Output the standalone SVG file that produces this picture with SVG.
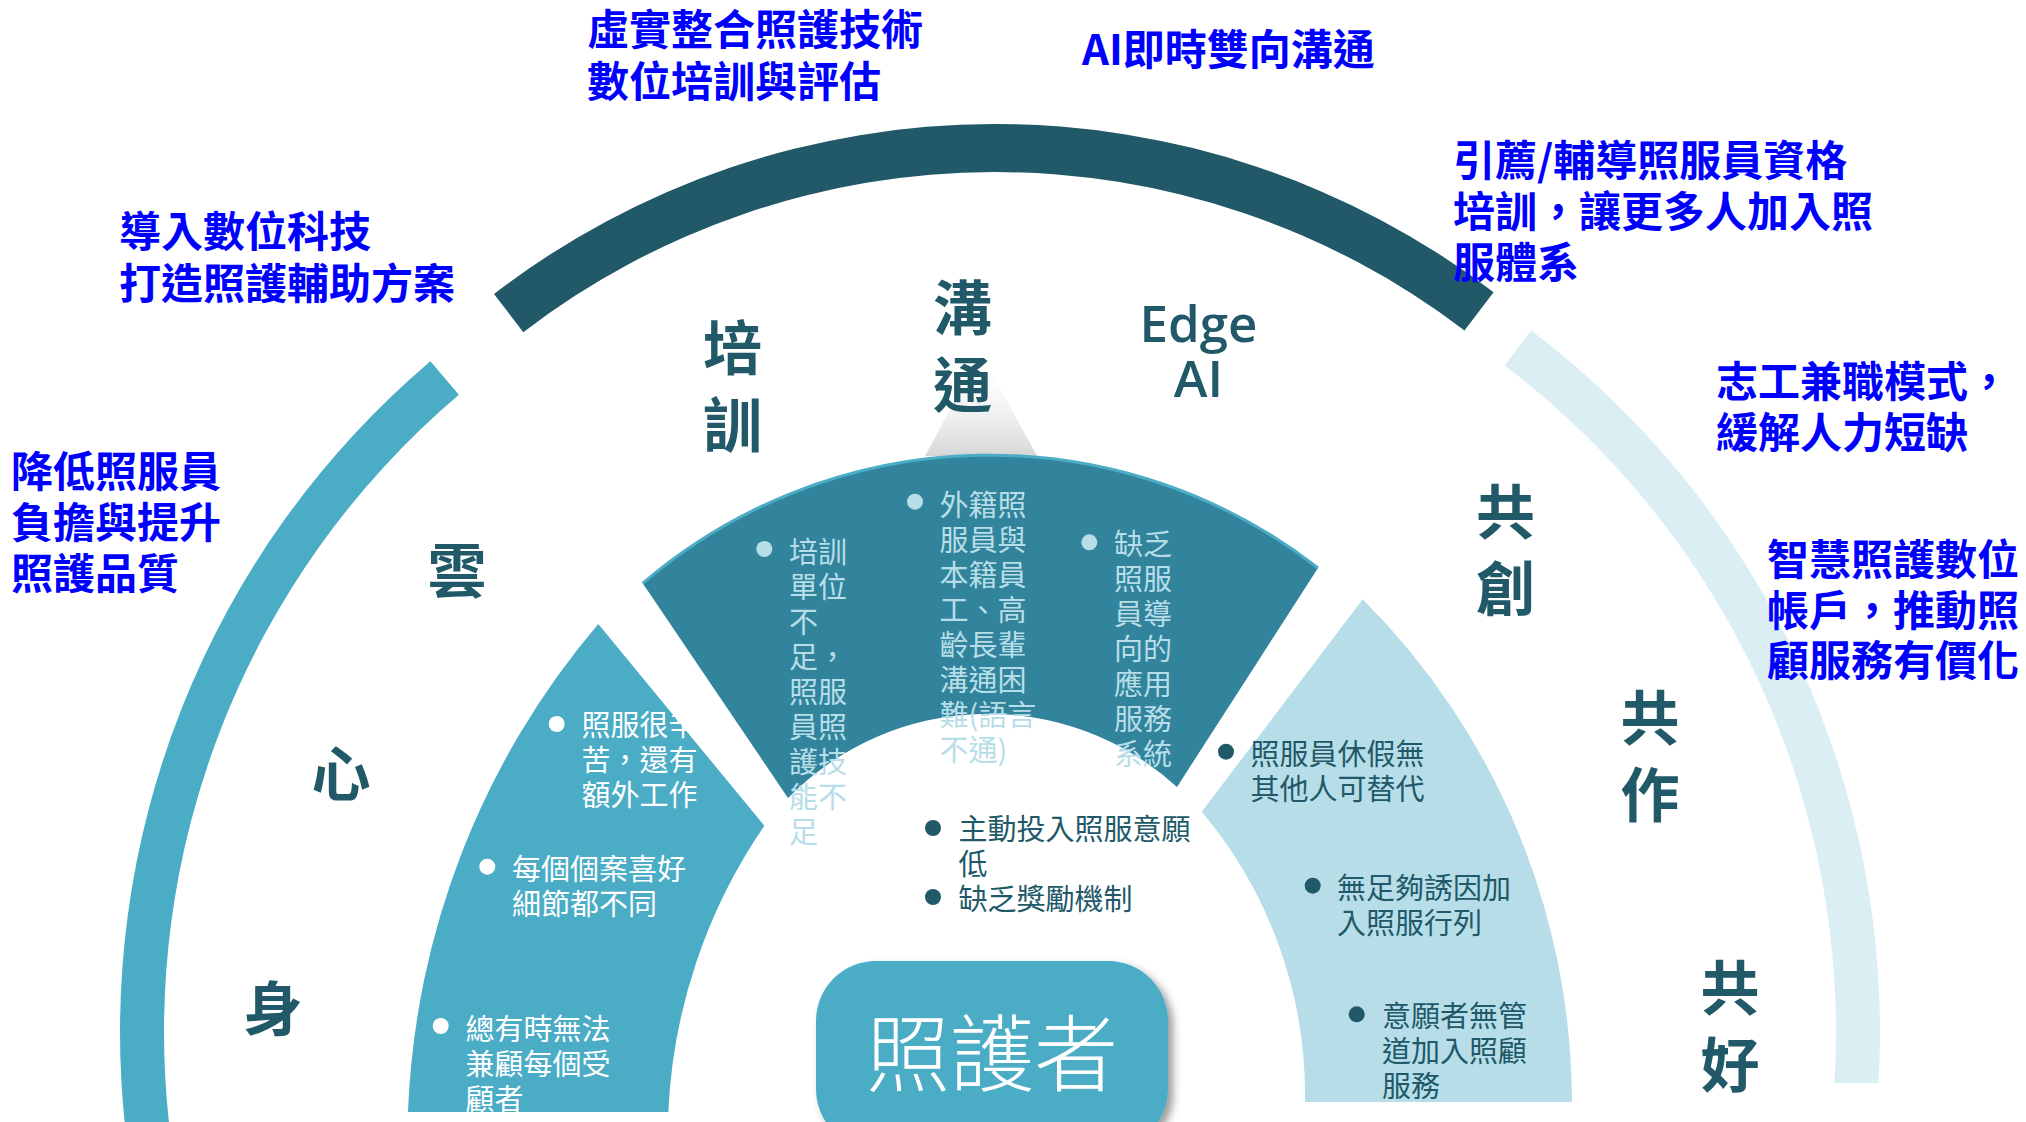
<svg xmlns="http://www.w3.org/2000/svg" width="2026" height="1122" viewBox="0 0 2026 1122">
<defs>
<style>
.blue{font-family:"Noto Sans CJK TC","Noto Sans CJK SC",sans-serif;font-weight:700;font-size:42px;fill:#0000FF}
.big{font-family:"Noto Sans CJK TC","Noto Sans CJK SC",sans-serif;font-weight:700;font-size:59px;fill:#215968;text-anchor:middle}
.item{font-family:"Noto Sans CJK TC","Noto Sans CJK SC",sans-serif;font-size:29px}
.w{fill:#FFFFFF}
.lt{fill:#B7DEE8}
.dk{fill:#215968}
</style>
<linearGradient id="spot" x1="0" y1="0" x2="0" y2="1">
<stop offset="0" stop-color="#ffffff" stop-opacity="0"/>
<stop offset="1" stop-color="#d6d6d6"/>
</linearGradient>
<filter id="sh" x="-10%" y="-10%" width="130%" height="130%">
<feDropShadow dx="5" dy="5" stdDeviation="4" flood-color="#000" flood-opacity="0.4"/>
</filter>
</defs>
<rect width="2026" height="1122" fill="#FFFFFF"/>

<g id="outer-arcs">
<path id="arc-top" d="M494,294 A823,823 0 0 1 1493.6,292.2 L1464.5,330.4 A775,775 0 0 0 523.3,332.2 Z" fill="#215968"/>
<path id="arc-left" d="M430.4,361.2 A880,880 0 0 0 125.5,1130 L169.8,1130 A836,836 0 0 1 458.9,394.7 Z" fill="#4BACC6"/>
<path id="arc-right" d="M1531.2,330.4 A880,880 0 0 1 1878.5,1083 L1834.4,1083 A836,836 0 0 0 1504.6,365.5 Z" fill="#DAEEF3"/>
</g>

<polygon id="spotlight" points="981,353 925,456 1037,456" fill="url(#spot)"/>

<g id="seg-left">
<path d="M598.3,624 L764.3,825.7 A550,550 0 0 0 668.3,1112 L408,1112 A800,800 0 0 1 598.3,624 Z" fill="#4BACC6"/>
<circle class="w" cx="556.7" cy="724" r="8"/>
<text class="item w"><tspan x="581.5" y="736">照服很辛</tspan><tspan x="581.5" y="771">苦，還有</tspan><tspan x="581.5" y="806">額外工作</tspan></text>
<circle class="w" cx="487.3" cy="866.7" r="8"/>
<text class="item w"><tspan x="512" y="880">每個個案喜好</tspan><tspan x="512" y="915">細節都不同</tspan></text>
<circle class="w" cx="440.7" cy="1026" r="8"/>
<text class="item w"><tspan x="465.5" y="1040">總有時無法</tspan><tspan x="465.5" y="1075">兼顧每個受</tspan><tspan x="465.5" y="1110">顧者</tspan></text>
</g>

<g id="seg-middle">
<path d="M642.7,583.3 A534,534 0 0 1 1318,568 L1177,787 A280,280 0 0 0 788,798 Z" fill="#31849B"/>
<path d="M642.7,583.3 A534,534 0 0 1 1318,568" fill="none" stroke="#4BACC6" stroke-width="3"/>
<circle class="lt" cx="764.3" cy="549" r="8"/>
<text class="item lt"><tspan x="789" y="563">培訓</tspan><tspan x="789" y="598">單位</tspan><tspan x="789" y="633">不</tspan><tspan x="789" y="668">足，</tspan><tspan x="789" y="703">照服</tspan><tspan x="789" y="738">員照</tspan><tspan x="789" y="773">護技</tspan><tspan x="789" y="808">能不</tspan><tspan x="789" y="843">足</tspan></text>
<circle class="lt" cx="915" cy="501.7" r="8"/>
<text class="item lt"><tspan x="939.5" y="515.5">外籍照</tspan><tspan x="939.5" y="550.5">服員與</tspan><tspan x="939.5" y="585.5">本籍員</tspan><tspan x="939.5" y="620.5">工、高</tspan><tspan x="939.5" y="655.5">齡長輩</tspan><tspan x="939.5" y="690.5">溝通困</tspan><tspan x="939.5" y="725.5">難(語言</tspan><tspan x="939.5" y="760.5">不通)</tspan></text>
<circle class="lt" cx="1089.3" cy="542.3" r="8"/>
<text class="item lt"><tspan x="1114" y="555">缺乏</tspan><tspan x="1114" y="590">照服</tspan><tspan x="1114" y="625">員導</tspan><tspan x="1114" y="660">向的</tspan><tspan x="1114" y="695">應用</tspan><tspan x="1114" y="730">服務</tspan><tspan x="1114" y="765">系統</tspan></text>
</g>

<g id="seg-right">
<path d="M1362.7,599.3 A713,713 0 0 1 1572,1102 L1305,1102 A440,440 0 0 0 1201.7,811.7 Z" fill="#B7DEE8"/>
<circle class="dk" cx="1226" cy="751.7" r="8"/>
<text class="item dk"><tspan x="1250.5" y="764.5">照服員休假無</tspan><tspan x="1250.5" y="799.5">其他人可替代</tspan></text>
<circle class="dk" cx="1312.7" cy="885.7" r="8"/>
<text class="item dk"><tspan x="1337" y="898.5">無足夠誘因加</tspan><tspan x="1337" y="933.5">入照服行列</tspan></text>
<circle class="dk" cx="1356.7" cy="1014.3" r="8"/>
<text class="item dk"><tspan x="1382" y="1027">意願者無管</tspan><tspan x="1382" y="1062">道加入照顧</tspan><tspan x="1382" y="1097">服務</tspan></text>
</g>

<g id="center-items">
<circle class="dk" cx="933" cy="828" r="8"/>
<text class="item dk"><tspan x="958.5" y="839.5">主動投入照服意願</tspan><tspan x="958.5" y="874.5">低</tspan></text>
<circle class="dk" cx="933" cy="897" r="8"/>
<text class="item dk" x="958.5" y="909.5">缺乏獎勵機制</text>
</g>

<g id="caregiver">
<rect x="816" y="961" width="352" height="188" rx="60" ry="60" fill="#4BACC6" filter="url(#sh)"/>
<text x="992" y="1085" font-family="Noto Sans CJK TC, Noto Sans CJK SC, sans-serif" font-weight="300" font-size="84" fill="#FFFFFF" text-anchor="middle">照護者</text>
</g>

<g id="ring-labels">
<text class="big"><tspan x="732.5" y="370">培</tspan><tspan x="732.5" y="447">訓</tspan></text>
<text class="big"><tspan x="962.5" y="330">溝</tspan><tspan x="962.5" y="407">通</tspan></text>
<text x="1198.5" y="342" font-family="Open Sans, sans-serif" font-weight="600" font-size="51" fill="#215968" text-anchor="middle">Edge</text>
<text x="1198.5" y="397" font-family="Open Sans, sans-serif" font-weight="600" font-size="51" fill="#215968" text-anchor="middle">AI</text>
<text class="big"><tspan x="1505.5" y="534">共</tspan><tspan x="1505.5" y="611">創</tspan></text>
<text class="big" x="457" y="593">雲</text>
<text class="big" x="341" y="796">心</text>
<text class="big" x="273" y="1031">身</text>
<text class="big"><tspan x="1650" y="740">共</tspan><tspan x="1650" y="817">作</tspan></text>
<text class="big"><tspan x="1730" y="1010">共</tspan><tspan x="1730" y="1087">好</tspan></text>
</g>

<g id="blue-notes">
<text class="blue"><tspan x="587" y="45">虛實整合照護技術</tspan><tspan x="587" y="96.5">數位培訓與評估</tspan></text>
<text class="blue" x="1082" y="65">AI即時雙向溝通</text>
<text class="blue"><tspan x="119" y="247">導入數位科技</tspan><tspan x="119" y="299">打造照護輔助方案</tspan></text>
<text class="blue"><tspan x="11" y="487">降低照服員</tspan><tspan x="11" y="538">負擔與提升</tspan><tspan x="11" y="589">照護品質</tspan></text>
<text class="blue"><tspan x="1453" y="176">引薦/輔導照服員資格</tspan><tspan x="1453" y="227">培訓，讓更多人加入照</tspan><tspan x="1453" y="278">服體系</tspan></text>
<text class="blue"><tspan x="1716" y="397">志工兼職模式，</tspan><tspan x="1716" y="448">緩解人力短缺</tspan></text>
<text class="blue"><tspan x="1767" y="575">智慧照護數位</tspan><tspan x="1767" y="626">帳戶，推動照</tspan><tspan x="1767" y="676">顧服務有價化</tspan></text>
</g>
</svg>
